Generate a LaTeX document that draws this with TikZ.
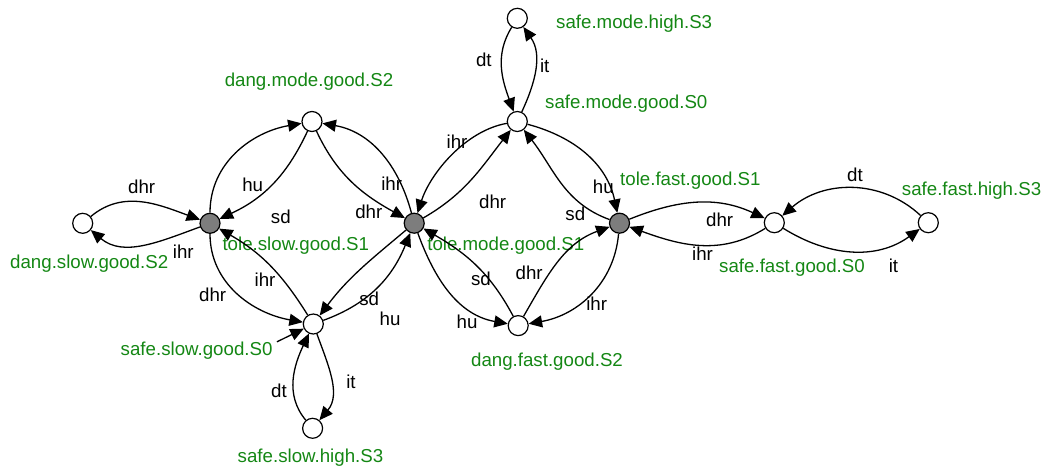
\documentclass[tikz,border=0pt]{standalone}
\usepackage{fontspec}
\setmainfont{Liberation Sans}
\usetikzlibrary{arrows.meta}
\definecolor{statecol}{RGB}{20,135,20}
\definecolor{tolefill}{RGB}{125,125,125}
\begin{document}
\begin{tikzpicture}[x=1pt,y=1pt,
  state/.style={circle,draw,line width=1.2pt,fill=white,minimum size=20pt,inner sep=0pt},
  tolestate/.style={state,fill=tolefill},
  trans/.style={draw,line width=1.3pt,-{Triangle[length=13.5pt,width=12pt]}},
  act/.style={anchor=base,font=\fontsize{18.7}{22}\selectfont,inner sep=0pt},
  statelabel/.style={act,text=statecol}]
\useasboundingbox (0,0) rectangle (1047,-469);

% states
\node[state]     (ds) at (82.7,-223.3) {};
\node[tolestate] (ts) at (210,-223.3) {};
\node[state]     (dm) at (312,-121.5) {};
\node[state]     (ss) at (313.3,-324) {};
\node[state]     (sh) at (312.6,-428.3) {};
\node[tolestate] (tm) at (414.2,-223.2) {};
\node[state]     (sm) at (517.3,-121.5) {};
\node[state]     (mh) at (517.3,-18.3) {};
\node[state]     (df) at (518.2,-325.6) {};
\node[tolestate] (tf) at (619.5,-223.2) {};
\node[state]     (sf) at (774.3,-222.7) {};
\node[state]     (fh) at (928.3,-222.7) {};
\coordinate (init) at (277,-341.8);

% state names
\node[statelabel] (lds) at (89.2,-268.3) {dang.slow.good.S2};
\node[statelabel] (lts) at (295.8,-250) {tole.slow.good.S1};
\node[statelabel] (ldm) at (309,-86.7) {dang.mode.good.S2};
\node[statelabel,anchor=base east] (lss) at (272.7,-355) {safe.slow.good.S0};
\node[statelabel] (lsh) at (310.5,-462.3) {safe.slow.high.S3};
\node[statelabel] (ltm) at (505.8,-250) {tole.mode.good.S1};
\node[statelabel,anchor=base west] (lsm) at (545,-108.3) {safe.mode.good.S0};
\node[statelabel,anchor=base west] (lmh) at (556,-28.3) {safe.mode.high.S3};
\node[statelabel,anchor=base west] (ltf) at (620,-185) {tole.fast.good.S1};
\node[statelabel] (ldf) at (547,-366.7) {dang.fast.good.S2};
\node[statelabel] (lsf) at (792,-272.7) {safe.fast.good.S0};
\node[statelabel,anchor=base west] (lfh) at (901.7,-195) {safe.fast.high.S3};

% transitions
\draw[trans] (ds) to[out=40,in=160] (ts);
\draw[trans] (ts) to[out=200,in=320] (ds);
\draw[trans] (ts) to[out=90,in=190] (dm);
\draw[trans] (dm) to[out=245,in=25] (ts);
\draw[trans] (dm) to[out=295,in=151] (tm);
\draw[trans] (tm) to[out=105,in=350] (dm);
\draw[trans] (ts) to[out=270,in=170] (ss);
\draw[trans] (ss) to[out=122,in=330] (ts);
\draw[trans] (tm) to[out=220,in=53] (ss);
\draw[trans] (ss) to[out=20,in=248] (tm);
\draw[trans] (mh) to[out=238,in=110] (sm);
\draw[trans] (sm) to[out=65,in=305] (mh);
\draw[trans] (sm) to[out=190,in=72,looseness=0.85] (tm);
\draw[trans] (tm) to[out=30,in=232] (sm);
\draw[trans] (sm) to[out=345,in=102] (tf);
\draw[trans] (tf) to[out=160,in=308] (sm);
\draw[trans] (tm) to[out=290,in=170] (df);
\draw[trans] (df) to[out=118,in=330] (tm);
\draw[trans] (df) to[out=60,in=200] (tf);
\draw[trans] (tf) to[out=265,in=10] (df);
\draw[trans] (tf) to[out=22,in=155] (sf);
\draw[trans] (sf) to[out=212,in=340] (tf);
\draw[trans] (fh) to[out=137,in=41] (sf);
\draw[trans] (sf) to[out=328,in=216] (fh);
\draw[trans] (sh) to[out=130,in=245] (ss);
\draw[trans] (ss) to[out=290,in=50] (sh);
\draw[trans] (init) -- (ss);

% action labels
\node[act] (a1)  at (141.7,-193.3) {dhr};
\node[act] (a2)  at (183.3,-258.3) {ihr};
\node[act] (a3)  at (252.7,-191.7) {hu};
\node[act] (a4)  at (280.8,-223.3) {sd};
\node[act] (a5)  at (391.7,-190.7) {ihr};
\node[act] (a6)  at (368.8,-218.3) {dhr};
\node[act] (a7)  at (265,-286.7) {ihr};
\node[act] (a8)  at (212.7,-301.7) {dhr};
\node[act] (a9)  at (369.2,-305) {sd};
\node[act] (a10) at (390,-325) {hu};
\node[act] (a11) at (483.8,-66) {dt};
\node[act] (a12) at (544.7,-72.3) {it};
\node[act] (a13) at (457,-148.3) {ihr};
\node[act] (a14) at (492.7,-208.3) {dhr};
\node[act] (a15) at (603.3,-193.3) {hu};
\node[act] (a16) at (575.3,-220) {sd};
\node[act] (a17) at (481,-285) {sd};
\node[act] (a18) at (529.2,-279) {dhr};
\node[act] (a19) at (467,-328.3) {hu};
\node[act] (a20) at (596.7,-310) {ihr};
\node[act] (a21) at (855,-181.7) {dt};
\node[act] (a22) at (719.7,-226) {dhr};
\node[act] (a23) at (702.5,-260) {ihr};
\node[act] (a24) at (893.5,-272.7) {it};
\node[act] (a25) at (279,-397.3) {dt};
\node[act] (a26) at (351,-388.3) {it};
\end{tikzpicture}
\end{document}
